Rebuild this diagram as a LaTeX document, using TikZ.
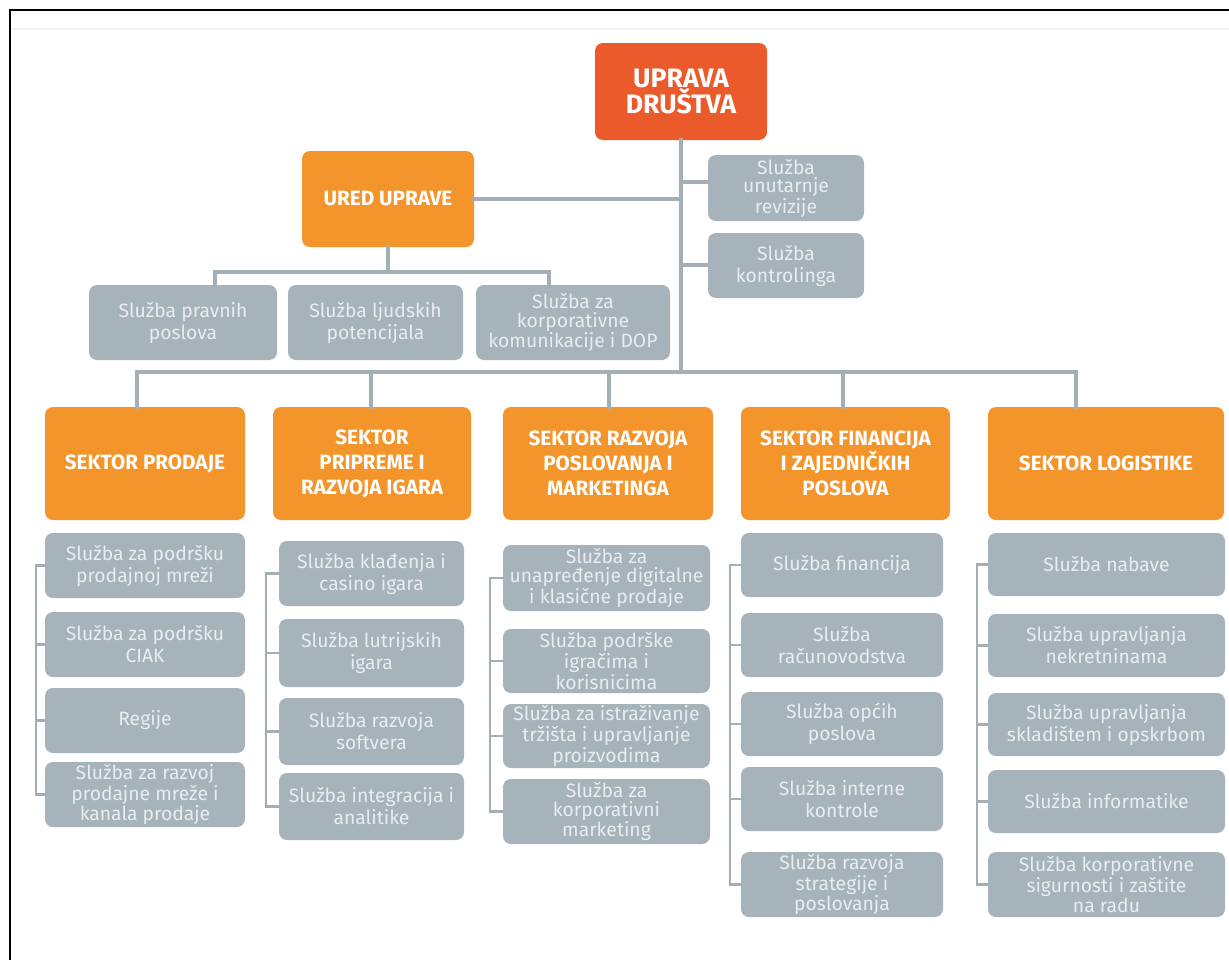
\documentclass[tikz,border=0pt]{standalone}
\usepackage{fontspec}
\setmainfont{Fira Sans}
\definecolor{redbox}{HTML}{EA5A2A}
\definecolor{orbox}{HTML}{F3952A}
\definecolor{grbox}{HTML}{A6B3BB}
\definecolor{grtext}{HTML}{E8EDF0}
\definecolor{connc}{HTML}{A3AEB5}
\tikzset{
  base/.style={rounded corners=6pt, inner sep=1pt, align=center},
  topbox/.style={base, fill=redbox, text=white, font=\fontsize{20}{19.5}\selectfont\bfseries},
  secbox/.style={base, fill=orbox, text=white, font=\fontsize{15.5}{18.75}\selectfont\bfseries},
  svcbox/.style={base, fill=grbox, text=grtext, font=\fontsize{14.5}{16.5}\selectfont},
  svcthree/.style={base, fill=grbox, text=grtext, font=\fontsize{14.5}{13.9}\selectfont},
  link/.style={draw=connc, line width=2.7pt, line cap=rect},
  brk/.style={draw=connc, line width=1.7pt, line cap=rect},
}
\newcommand{\bx}[7]{\node[#2, minimum width={(#5-#3)*0.75pt}, minimum height={(#6-#4)*0.75pt}] (#1) at ({(#3+#5)/2},{(#4+#6)/2}) {#7};}
\begin{document}
\begin{tikzpicture}[x=0.75pt,y=-0.75pt]
\useasboundingbox (0,0) rectangle (1229,960);
\fill[white] (0,0) rectangle (1229,960);
% frame
\draw[line width=1.6pt, black] (10,962) -- (10,10) -- (1231,10);
\draw[line width=0.8pt, black!6] (12,29) -- (1229,29);

% top level
\bx{upr}{topbox}{595}{43}{767}{140}{UPRAVA\\DRUŠTVA}
\bx{ured}{secbox}{302}{151}{474}{247}{URED UPRAVE}
\bx{rev}{svcthree}{708}{155}{864}{221}{Služba\\unutarnje\\revizije}
\bx{kon}{svcbox}{708}{233}{864}{298}{Služba\\kontrolinga}
\bx{p1}{svcbox}{89}{285}{277}{360}{Služba pravnih\\poslova}
\bx{p2}{svcbox}{288}{285}{463}{360}{Služba ljudskih\\potencijala}
\bx{p3}{svcthree}{476}{285}{670}{360}{Služba za\\korporativne\\komunikacije i DOP}

% sectors
\bx{s1}{secbox}{45}{407}{245}{520}{SEKTOR PRODAJE}
\bx{s2}{secbox}{273}{407}{471}{520}{SEKTOR\\PRIPREME I\\RAZVOJA IGARA}
\bx{s3}{secbox}{503}{407}{713}{520}{SEKTOR RAZVOJA\\POSLOVANJA I\\MARKETINGA}
\bx{s4}{secbox}{741}{407}{950}{520}{SEKTOR FINANCIJA\\I ZAJEDNIČKIH\\POSLOVA}
\bx{s5}{secbox}{988}{407}{1224}{520}{SEKTOR LOGISTIKE}

% column 1
\bx{c1a}{svcbox}{45}{533}{245}{598}{Služba za podršku\\prodajnoj mreži}
\bx{c1b}{svcbox}{45}{612}{245}{677}{Služba za podršku\\CIAK}
\bx{c1c}{svcbox}{45}{688}{245}{753}{Regije}
\bx{c1d}{svcthree}{45}{762}{245}{827}{Služba za razvoj\\prodajne mreže i\\kanala prodaje}
% column 2
\bx{c2a}{svcbox}{279}{541}{464}{606}{Služba klađenja i\\casino igara}
\bx{c2b}{svcbox}{279}{619}{464}{687}{Služba lutrijskih\\igara}
\bx{c2c}{svcbox}{279}{698}{464}{765}{Služba razvoja\\softvera}
\bx{c2d}{svcbox}{279}{773}{464}{840}{Služba integracija i\\analitike}
% column 3
\bx{c3a}{svcthree}{503}{545}{710}{611}{Služba za\\unapređenje digitalne\\i klasične prodaje}
\bx{c3b}{svcthree}{503}{629}{710}{693}{Služba podrške\\igračima i\\korisnicima}
\bx{c3c}{svcthree}{503}{704}{710}{768}{Služba za istraživanje\\tržišta i upravljanje\\proizvodima}
\bx{c3d}{svcthree}{503}{779}{710}{844}{Služba za\\korporativni\\marketing}
% column 4
\bx{c4a}{svcbox}{741}{533}{943}{597}{Služba financija}
\bx{c4b}{svcbox}{741}{613}{943}{677}{Služba\\računovodstva}
\bx{c4c}{svcbox}{741}{692}{943}{756}{Služba općih\\poslova}
\bx{c4d}{svcbox}{741}{767}{943}{831}{Služba interne\\kontrole}
\bx{c4e}{svcthree}{741}{852}{943}{917}{Služba razvoja\\strategije i\\poslovanja}
% column 5
\bx{c5a}{svcbox}{988}{533}{1225}{596}{Služba nabave}
\bx{c5b}{svcbox}{988}{614}{1225}{677}{Služba upravljanja\\nekretninama}
\bx{c5c}{svcbox}{988}{693}{1225}{756}{Služba upravljanja\\skladištem i opskrbom}
\bx{c5d}{svcbox}{988}{770}{1225}{833}{Služba informatike}
\bx{c5e}{svcthree}{988}{852}{1225}{917}{Služba korporativne\\sigurnosti i zaštite\\na radu}

% connectors top
\coordinate (trunkB) at (681,372);
\coordinate (trev) at (681,182);
\coordinate (tkon) at (681,265);
\draw[link] (upr.south) -- (trunkB);
\draw[link] (ured.east) -- (ured.east -| trunkB);
\draw[link] (trev) -- (trev -| rev.west);
\draw[link] (tkon) -- (tkon -| kon.west);
% ured branch
\coordinate (uL) at (215,272);
\coordinate (uR) at (549,272);
\draw[link] (ured.south) -- (ured.south |- uL);
\draw[link] (uL) -- (uR);
\draw[link] (uL) -- (uL |- p1.north);
\draw[link] (uR) -- (uR |- p3.north);
% main bus
\coordinate (d1) at (137,372);
\coordinate (d2) at (371,372);
\coordinate (d3) at (609,372);
\coordinate (d4) at (843,372);
\coordinate (d5) at (1076,372);
\draw[link] (d1) -- (d5);
\draw[link] (d1) -- (d1 |- s1.north);
\draw[link] (d2) -- (d2 |- s2.north);
\draw[link] (d3) -- (d3 |- s3.north);
\draw[link] (d4) -- (d4 |- s4.north);
\draw[link] (d5) -- (d5 |- s5.north);

% brackets
\coordinate (b1) at (36,0);
\coordinate (b2) at (266,0);
\coordinate (b3) at (490,0);
\coordinate (b4) at (730,0);
\coordinate (b5) at (977,0);
\draw[brk] (c1a.west -| b1) -- (c1d.west -| b1);
\foreach \n in {c1a,c1b,c1c,c1d} \draw[brk] (\n.west) -- (\n.west -| b1);
\draw[brk] (c2a.west -| b2) -- (c2d.west -| b2);
\foreach \n in {c2a,c2b,c2c,c2d} \draw[brk] (\n.west) -- (\n.west -| b2);
\draw[brk] (c3a.west -| b3) -- (c3d.west -| b3);
\foreach \n in {c3a,c3b,c3c,c3d} \draw[brk] (\n.west) -- (\n.west -| b3);
\draw[brk] (c4a.west -| b4) -- (c4e.west -| b4);
\foreach \n in {c4a,c4b,c4c,c4d,c4e} \draw[brk] (\n.west) -- (\n.west -| b4);
\draw[brk] (c5a.west -| b5) -- (c5e.west -| b5);
\foreach \n in {c5a,c5b,c5c,c5d,c5e} \draw[brk] (\n.west) -- (\n.west -| b5);
\end{tikzpicture}
\end{document}
